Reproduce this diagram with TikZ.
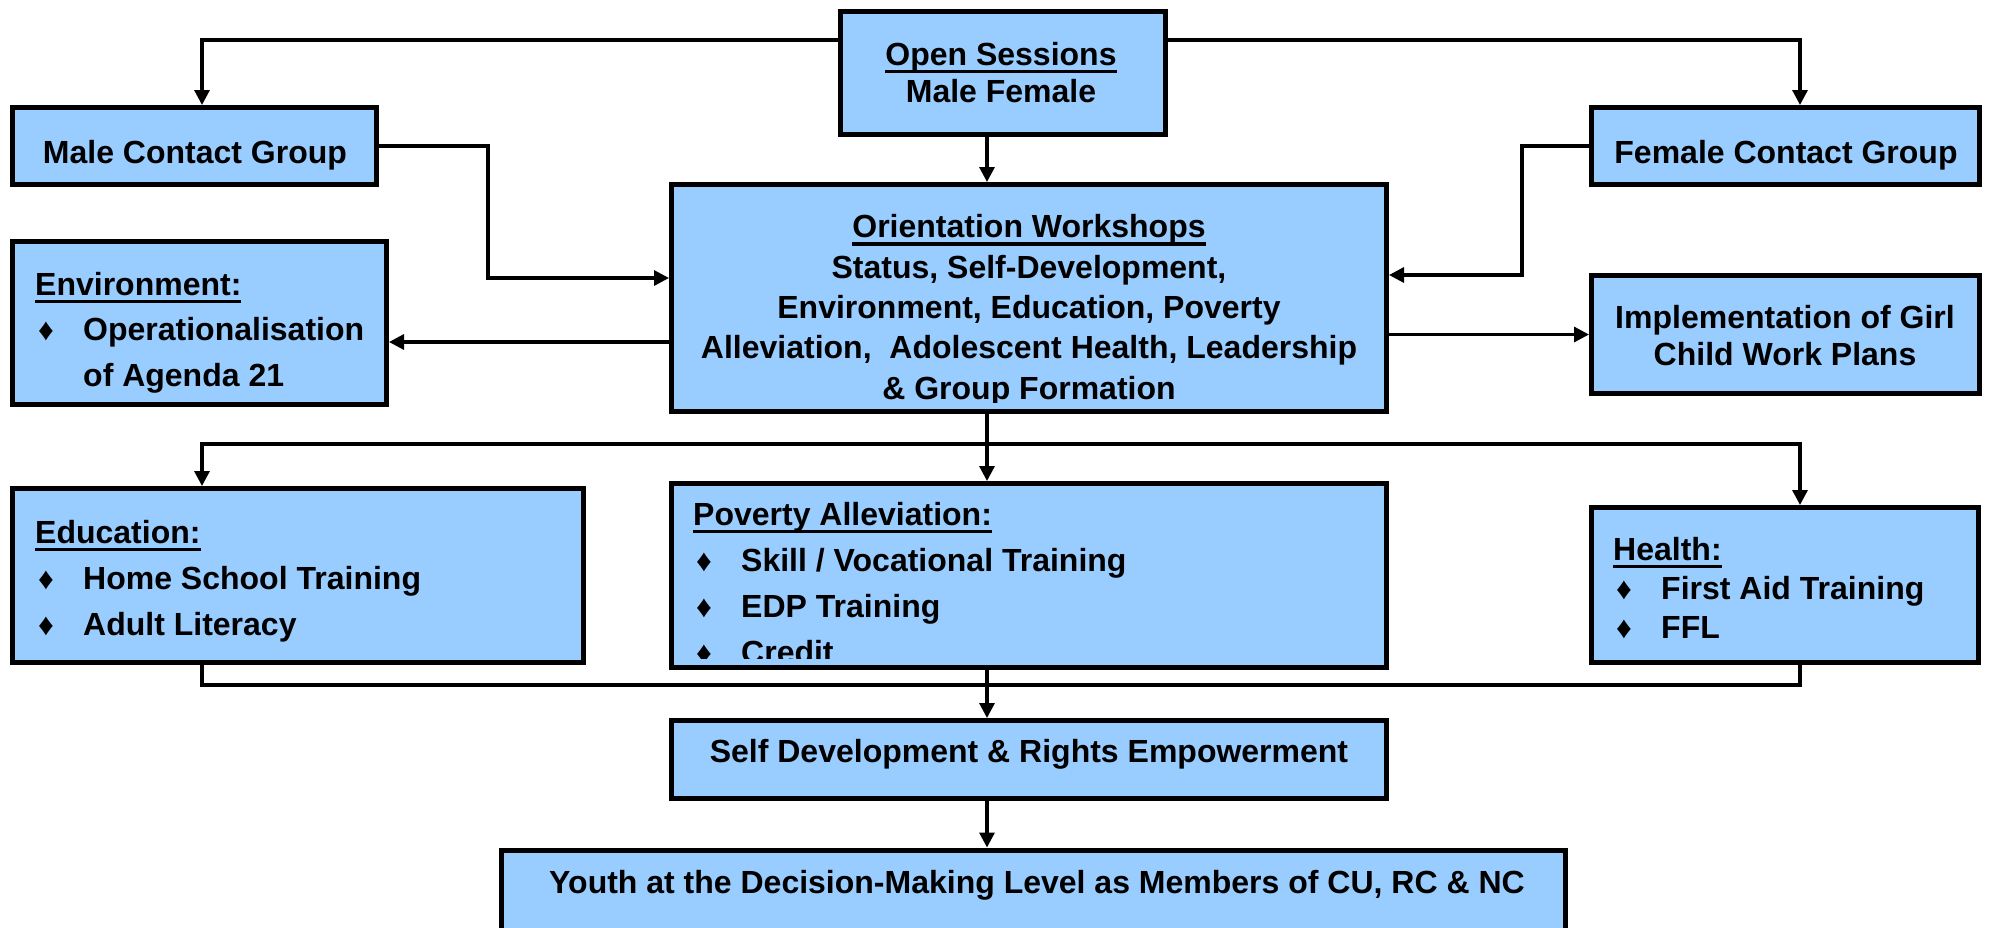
\documentclass[tikz,border=0pt]{standalone}
\usepackage{fontspec}
\setmainfont{Liberation Sans}
\usetikzlibrary{arrows.meta}
\definecolor{boxblue}{HTML}{99CCFF}
\newsavebox\hdbox
\newcommand{\hd}[1]{\sbox\hdbox{#1}\rlap{\rule[-8pt]{\wd\hdbox}{3.5pt}}\usebox\hdbox}
\newcommand{\itm}{\makebox[48pt][l]{\hspace{3pt}{\fontsize{31}{31}\selectfont ♦}}}
\tikzset{
  box/.style={draw, line width=5pt, fill=boxblue, inner sep=0pt},
  lbl/.style={inner sep=0pt, font=\fontsize{32}{#1}\selectfont\bfseries},
  link/.style={line width=3.2pt}
}

\begin{document}
\begin{tikzpicture}[x=1pt, y=-1pt, >={Triangle[length=15pt,width=15pt]}]
  \clip (0,0) rectangle (1990,927);

  \node[box, minimum width=325pt, minimum height=123pt] (open)    at (1003,73)    {};
  \node[box, minimum width=364pt, minimum height=77pt]  (male)    at (194.5,146)  {};
  \node[box, minimum width=388pt, minimum height=77pt]  (female)  at (1785.5,146) {};
  \node[box, minimum width=715pt, minimum height=227pt] (orient)  at (1029,298)   {};
  \node[box, minimum width=374pt, minimum height=163pt] (env)     at (199.5,323)  {};
  \node[box, minimum width=388pt, minimum height=118pt] (impl)    at (1785.5,334.5) {};
  \node[box, minimum width=571pt, minimum height=174pt] (edu)     at (298,575.5)  {};
  \node[box, minimum width=715pt, minimum height=184pt] (poverty) at (1029,575.5) {};
  \node[box, minimum width=387pt, minimum height=155pt] (health)  at (1785,585)   {};
  \node[box, minimum width=715pt, minimum height=78pt]  (selfdev) at (1029,759.5) {};
  \node[box, minimum width=1064pt, minimum height=110pt] (youth)  at (1033.5,905) {};

  % multi-line texts sit on the baseline of their last line
  \node[lbl=37pt, align=center, anchor=base] (opentxt) at (1001,102) {\hd{Open Sessions}\\Male Female};
  \node[lbl=40pt, anchor=base] (maletxt) at (195,163) {Male Contact Group};
  \node[lbl=40pt, anchor=base] (femaletxt) at (1786,163) {Female Contact Group};
  \begin{scope}
    \clip (orient.north west) rectangle ([yshift=12pt]orient.south east);
    \node[lbl=40.3pt, align=center, anchor=base] (orienttxt) at (1029,399) {%
      \hd{Orientation Workshops}\\
      Status, Self-Development,\\
      Environment, Education, Poverty\\
      Alleviation,\ \ Adolescent Health, Leadership\\
      \& Group Formation};
  \end{scope}
  \node[lbl=45.5pt, align=left, anchor=base west] (envtxt) at (35,386) {%
    \hd{Environment:}\\
    \itm Operationalisation\\
    \hspace*{48pt}of Agenda 21};
  \node[lbl=37pt, align=center, anchor=base] (impltxt) at (1785,365) {Implementation of Girl\\Child Work Plans};
  \node[lbl=46pt, align=left, anchor=base west] (edutxt) at (35,635) {%
    \hd{Education:}\\
    \itm Home School Training\\
    \itm Adult Literacy};
  \begin{scope}
    \clip (poverty.north west) rectangle ([yshift=12pt]poverty.south east);
    \node[lbl=46pt, align=left, anchor=base west] (povertytxt) at (693,663) {%
      \hd{Poverty Alleviation:}\\
      \itm Skill / Vocational Training\\
      \itm EDP Training\\
      \itm Credit};
  \end{scope}
  \node[lbl=39pt, align=left, anchor=base west] (healthtxt) at (1613,638) {%
    \hd{Health:}\\
    \itm First Aid Training\\
    \itm FFL};
  \node[lbl=40pt, anchor=base] (selfdevtxt) at (1029,762) {Self Development \& Rights Empowerment};
  \node[lbl=40pt, anchor=base] (youthtxt) at (1037,893) {Youth at the Decision-Making Level as Members of CU, RC \& NC};

  \coordinate (topbus) at (0,40);
  \coordinate (midbus) at (0,444);
  \coordinate (lowbus) at (0,685);
  \coordinate (spine) at (987,0);
  \coordinate (leftdrop) at (202,0);
  \coordinate (rightdrop) at (1800,0);
  \coordinate (maleturn) at (488,278);
  \coordinate (femaleturn) at (1522,275);
  \coordinate (envlevel) at (0,342);

  \draw[link,->] (open.west |- topbus) -| (male.north -| leftdrop);
  \draw[link,->] (open.east |- topbus) -| (female.north -| rightdrop);
  \draw[link,->] (open.south -| spine) -- (orient.north -| spine);
  \draw[link,->] (male.east) -| (maleturn) -- (orient.west |- maleturn);
  \draw[link,->] (female.west) -| (femaleturn) -- (orient.east |- femaleturn);
  \draw[link,->] (orient.west |- envlevel) -- (env.east |- envlevel);
  \draw[link,->] (orient.east |- impl.west) -- (impl.west);
  \draw[link,->] (orient.south -| spine) -- (poverty.north -| spine);
  \draw[link,->] (spine |- midbus) -| (edu.north -| leftdrop);
  \draw[link,->] (spine |- midbus) -| (health.north -| rightdrop);
  \draw[link] (edu.south -| leftdrop) |- (spine |- lowbus) -| (health.south -| rightdrop);
  \draw[link,->] (poverty.south -| spine) -- (selfdev.north -| spine);
  \draw[link,->] (selfdev.south -| spine) -- (youth.north -| spine);
\end{tikzpicture}
\end{document}
